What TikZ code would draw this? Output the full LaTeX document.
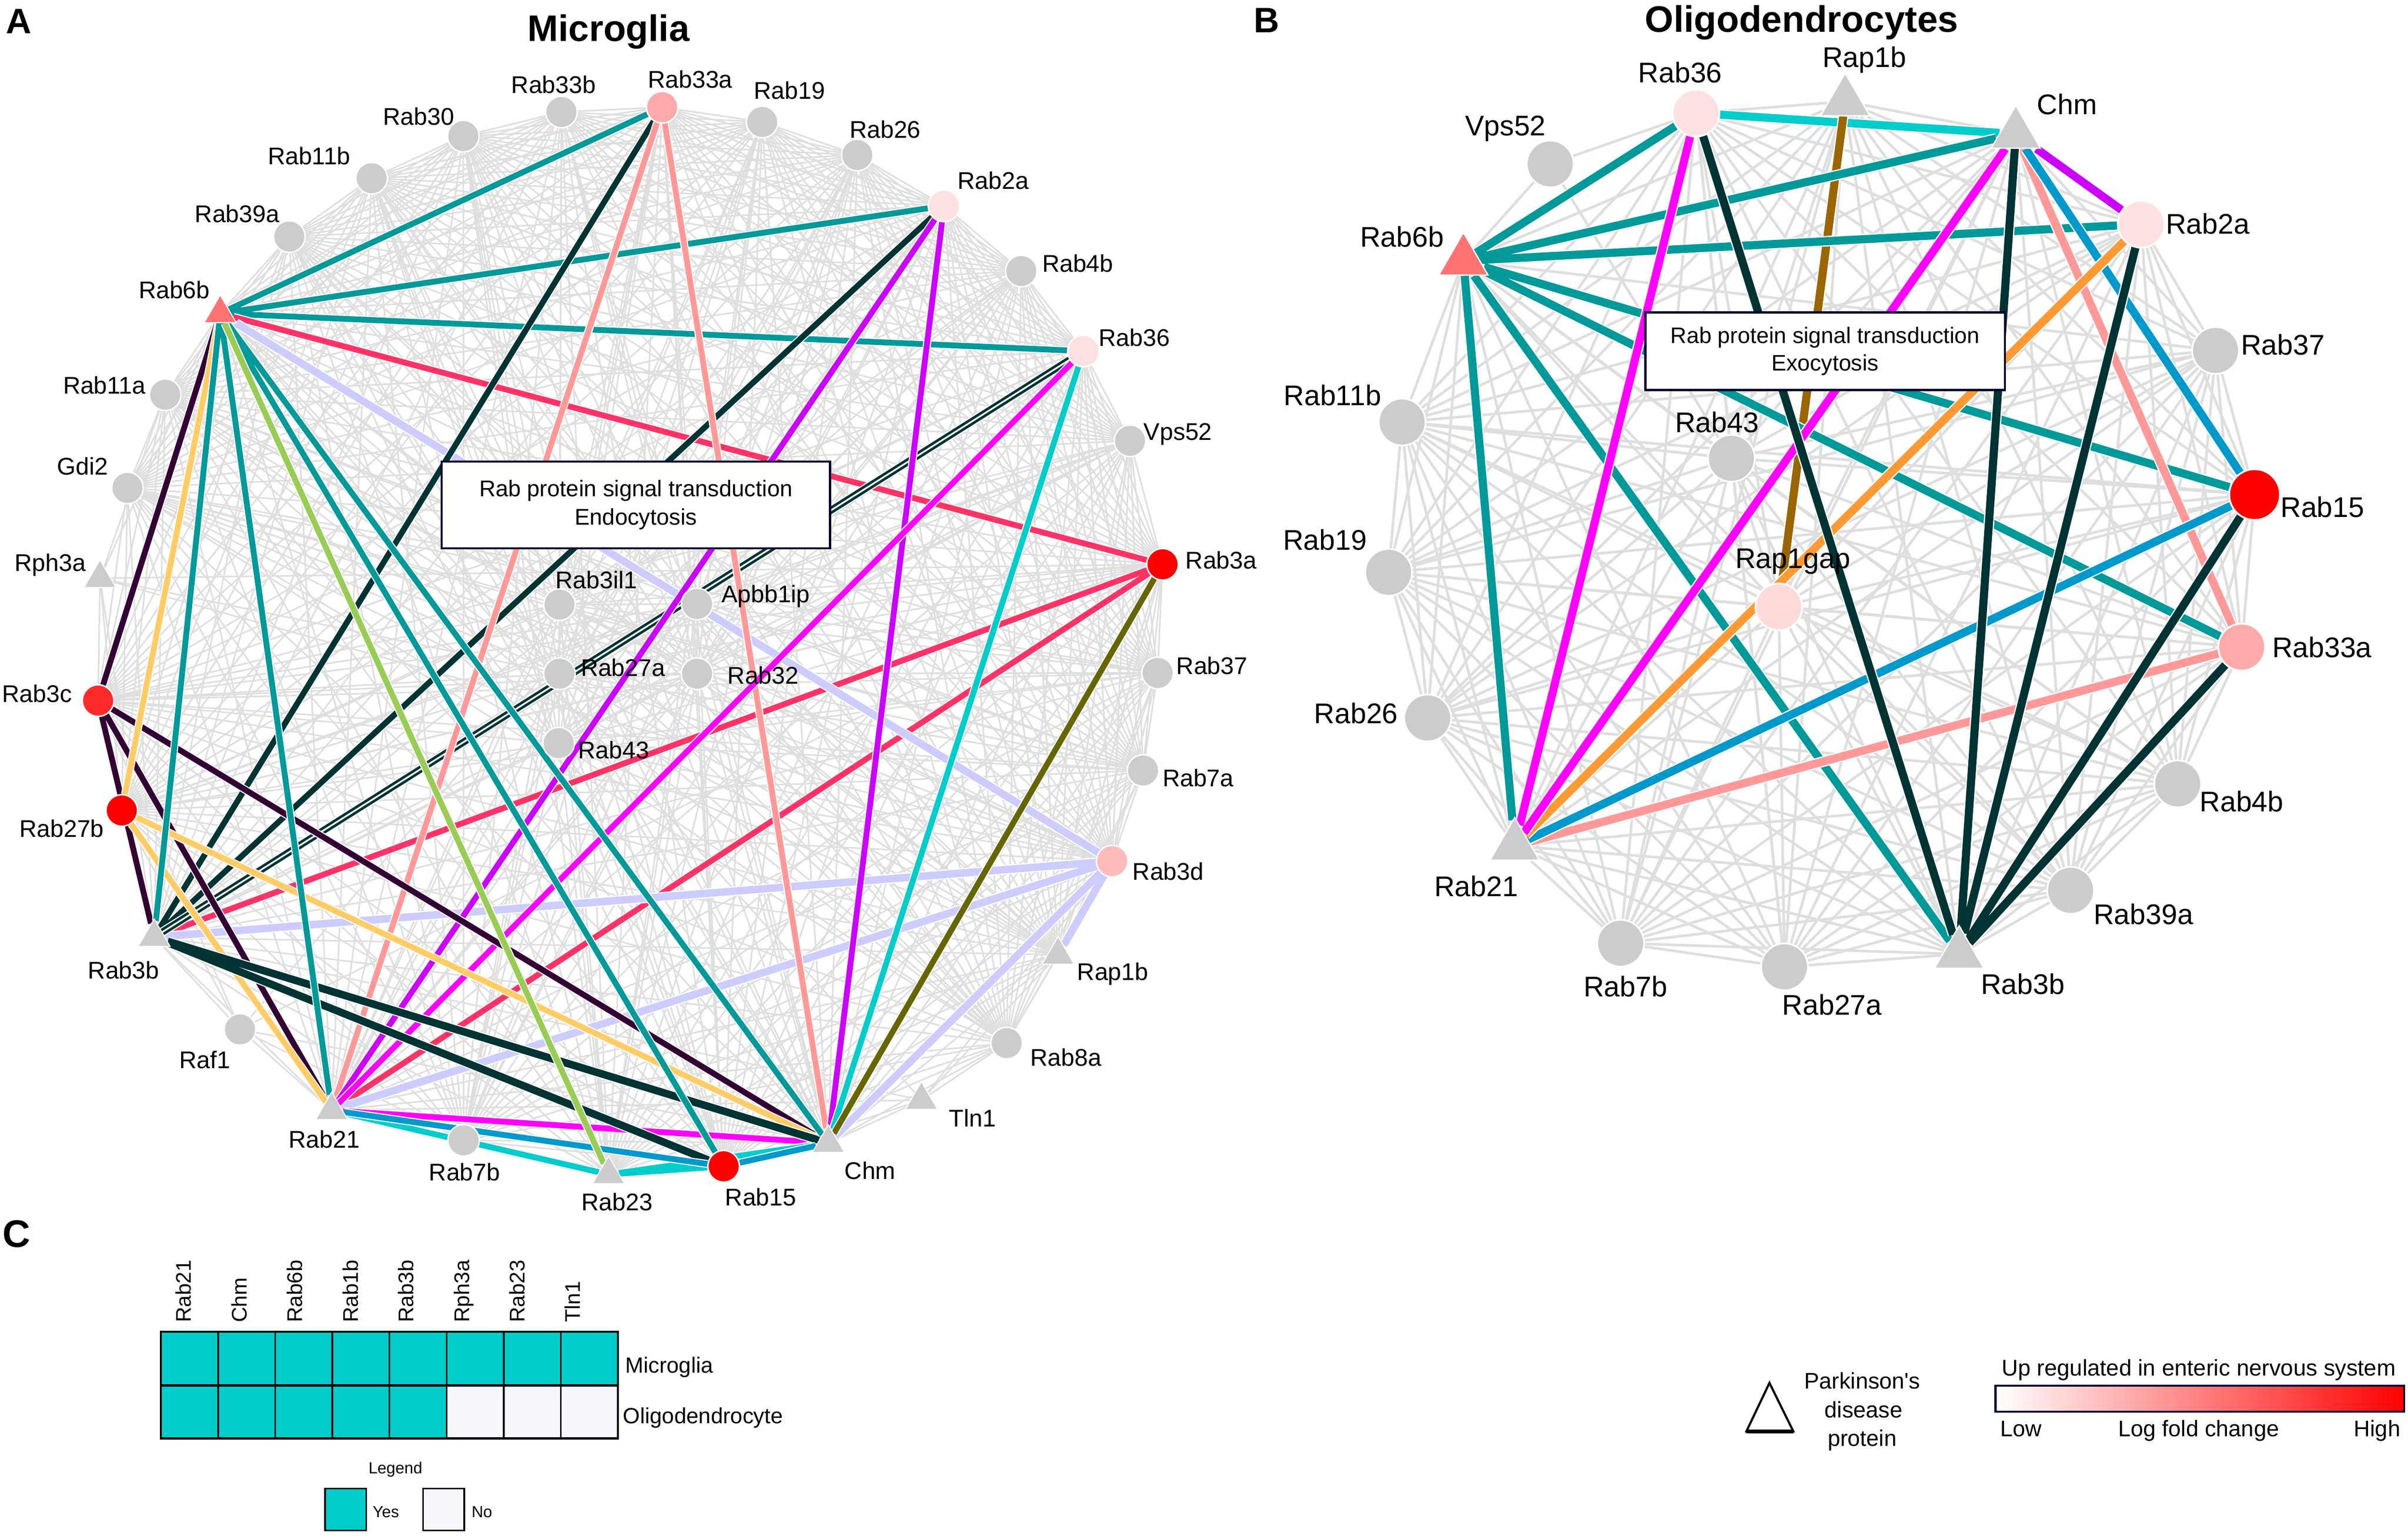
\documentclass[tikz,border=0pt]{standalone}
\usepackage{fontspec}
\setmainfont{Liberation Sans}
\usetikzlibrary{shapes.geometric,backgrounds}
\newcommand\myfs[1]{\fontsize{#1}{#1}\selectfont}
\definecolor{cTeal}{HTML}{009999}
\definecolor{cDark}{HTML}{003333}
\definecolor{cDpur}{HTML}{330033}
\definecolor{cYel}{HTML}{FFCC66}
\definecolor{cGrn}{HTML}{99CC55}
\definecolor{cCrim}{HTML}{FF3366}
\definecolor{cLav}{HTML}{CCCCFF}
\definecolor{cSal}{HTML}{FF9999}
\definecolor{cPur}{HTML}{CC00FF}
\definecolor{cMag}{HTML}{FF00FF}
\definecolor{cCyan}{HTML}{00CCCC}
\definecolor{cOli}{HTML}{666600}
\definecolor{cBlu}{HTML}{0099CC}
\definecolor{cOra}{HTML}{FF9933}
\definecolor{cBrn}{HTML}{996600}
\definecolor{cNavy}{HTML}{000033}
\definecolor{eg}{HTML}{DEDEDE}
\definecolor{ng}{HTML}{CCCCCC}
\definecolor{tri6b}{HTML}{FF7373}
\definecolor{red3c}{HTML}{FF2A2A}
\definecolor{cRed}{HTML}{FF0000}
\definecolor{p3d}{HTML}{FFBBBB}
\definecolor{p2a}{HTML}{FFE1E1}
\definecolor{p33a}{HTML}{FFAAAA}
\definecolor{pgap}{HTML}{FFDADA}
\definecolor{cHeat}{HTML}{00CCCC}
\definecolor{cNo}{HTML}{F5F7FC}
\begin{document}
\begin{tikzpicture}[x=1pt,y=-1pt,
  circA/.style={circle, draw=white, line width=0.9pt, minimum size=20.5pt, inner sep=0pt, fill=ng},
  triA/.style={regular polygon, regular polygon sides=3, minimum size=24pt, inner sep=0pt, fill=ng, draw=white, line width=0.6pt},
  circB/.style={circle, draw=white, line width=1.1pt, minimum size=30.5pt, inner sep=0pt, fill=ng},
  triB/.style={regular polygon, regular polygon sides=3, minimum size=37pt, inner sep=0pt, fill=ng, draw=white, line width=0.8pt},
  gA/.style={draw=eg, line width=1.0pt},
  gB/.style={draw=eg, line width=1.7pt},
  ceA/.style={line width=3.8pt, preaction={draw=white, line width=5.2pt}},
  ceAt/.style={line width=4.9pt, preaction={draw=white, line width=6.3pt}},
  ceB/.style={line width=5.3pt, preaction={draw=white, line width=6.9pt}},
  labA/.style={font=\myfs{15.7}, inner sep=0pt, text height=11.24pt, text depth=0pt},
  labB/.style={font=\myfs{18.5}, inner sep=0pt, text height=13.25pt, text depth=0pt},
  labC/.style={font=\myfs{13.8}, inner sep=0pt, text height=9.9pt, text depth=0pt, rotate=90, anchor=west},
  labR/.style={font=\myfs{14.3}, inner sep=0pt, text height=10.24pt, text depth=0pt, anchor=west},
  labL/.style={font=\myfs{10.5}, inner sep=0pt, text height=7.5pt, text depth=0pt},
  leg/.style={font=\myfs{14.7}, inner sep=0pt},
  title/.style={font=\bfseries\myfs{24}, inner sep=0pt, text height=17.2pt, text depth=0pt},
  letter/.style={font=\bfseries\myfs{23}, inner sep=0pt, text height=16.5pt, text depth=0pt},
  boxA/.style={draw=cNavy, line width=1.3pt, fill=white, minimum width=252.9pt, minimum height=56.6pt, inner sep=0pt, align=center, font=\fontsize{14.8}{18.5}\selectfont},
  boxB/.style={draw=cNavy, line width=1.5pt, fill=white, minimum width=234.2pt, minimum height=50.5pt, inner sep=0pt, align=center, font=\fontsize{14.6}{17.8}\selectfont}
]
\useasboundingbox (0,0) rectangle (1568,999.5);

% ---------------- Panel A nodes ----------------
\node[circA] (aRab33b) at (365.6,72.9) {};
\node[circA] (aRab30) at (301.7,88.6) {};
\node[circA] (aRab11b) at (242,116) {};
\node[circA] (aRab39a) at (188.4,154) {};
\node[triA, fill=tri6b] (aRab6b) at (143.4,204) {};
\node[circA] (aRab11a) at (107.6,256.9) {};
\node[circA] (aGdi2) at (83,317.6) {};
\node[triA] (aRph3a) at (65.1,376.4) {};
\node[circA, fill=red3c] (aRab3c) at (63.9,456) {};
\node[circA, fill=cRed] (aRab27b) at (79.3,527.5) {};
\node[triA] (aRab3b) at (100.4,610) {};
\node[circA] (aRaf1) at (156.3,670) {};
\node[triA] (aRab21) at (216,722.7) {};
\node[circA] (aRab7b) at (301.9,742.2) {};
\node[triA] (aRab23) at (396.3,764.4) {};
\node[circA, fill=cRed] (aRab15) at (471.2,759.1) {};
\node[triA] (aChm) at (539.4,744) {};
\node[triA] (aTln1) at (600,716) {};
\node[circA] (aRab8a) at (655.5,678.9) {};
\node[triA] (aRap1b) at (689,621.5) {};
\node[circA, fill=p3d] (aRab3d) at (724.2,560.5) {};
\node[circA] (aRab7a) at (744.3,501.5) {};
\node[circA] (aRab37) at (753.8,438) {};
\node[circA, fill=cRed] (aRab3a) at (757,367.3) {};
\node[circA] (aVps52) at (735.8,286.9) {};
\node[circA, fill=p2a] (aRab36) at (705.5,228.5) {};
\node[circA] (aRab4b) at (665,176.4) {};
\node[circA, fill=p2a] (aRab2a) at (614.7,134) {};
\node[circA] (aRab26) at (558.2,100.9) {};
\node[circA] (aRab19) at (496.3,79.4) {};
\node[circA, fill=p33a] (aRab33a) at (431.2,69.8) {};
\node[circA] (aRab3il1) at (364.3,393.5) {};
\node[circA] (aApbb1ip) at (453.9,393.1) {};
\node[circA] (aRab27a) at (364.3,438.5) {};
\node[circA] (aRab32) at (453.9,438.5) {};
\node[circA] (aRab43) at (363.8,483.7) {};

% ---------------- Panel B nodes ----------------
\node[circB, fill=p2a] (bRab36) at (1104.3,73.6) {};
\node[circB] (bVps52) at (1009.4,106.7) {};
\node[triB, fill=tri6b] (bRab6b) at (952.9,169.8) {};
\node[triB] (bRap1b) at (1201.5,66.1) {};
\node[triB] (bChm) at (1312.6,87.2) {};
\node[circB, fill=p2a] (bRab2a) at (1394.3,145.9) {};
\node[circB] (bRab37) at (1442.7,228.1) {};
\node[circB, fill=cRed, minimum size=33pt] (bRab15) at (1468.1,321.9) {};
\node[circB, fill=p33a] (bRab33a) at (1459.7,421.2) {};
\node[circB] (bRab4b) at (1418,510.2) {};
\node[circB] (bRab39a) at (1348.3,579.5) {};
\node[triB] (bRab3b) at (1275.7,621) {};
\node[circB] (bRab27a) at (1162,629.3) {};
\node[circB] (bRab7b) at (1055.3,613.9) {};
\node[triB] (bRab21) at (986.3,550.6) {};
\node[circB] (bRab26) at (929.6,467.3) {};
\node[circB] (bRab19) at (904.2,372.5) {};
\node[circB] (bRab11b) at (913,274.7) {};
\node[circB] (bRab43) at (1127.4,298.3) {};
\node[circB, fill=pgap] (bRap1gap) at (1158.3,395) {};

% ---------------- edges (behind nodes) ----------------
\def\coreA{Rab33a,Rab19,Rab26,Rab2a,Rab4b,Rab36,Vps52,Rab3a,Rab37,Rab7a,Rab3d,Rap1b,Rab8a,Chm,Rab15,Rab23,Rab7b,Rab21,Rab3b,Rab27b,Rab3c,Gdi2,Rab11a,Rab6b,Rab39a,Rab11b,Rab30,Rab33b,Rab3il1,Apbb1ip,Rab27a,Rab32,Rab43}
\def\coreB{Rab36,Rap1b,Chm,Rab2a,Rab37,Rab15,Rab33a,Rab4b,Rab39a,Rab3b,Rab27a,Rab7b,Rab21,Rab26,Rab19,Rab11b,Rab6b,Rab43,Rap1gap}
\begin{pgfonlayer}{background}
\fill[white] (0,0) rectangle (1568,999.5);
\foreach \u [count=\i] in \coreA {
  \foreach \v [count=\j] in \coreA {
    \ifnum\j>\i \draw[gA] (a\u) -- (a\v); \fi
  }
}
\foreach \u/\v in {Rph3a/Rab6b,Rph3a/Rab3c,Rph3a/Rab27b,Rph3a/Rab3b,Rph3a/Rab11a,Rph3a/Rab3a,Rph3a/Rab3d,Rph3a/Rab27a,
  Raf1/Rab3b,Raf1/Rab21,Raf1/Rab3c,Raf1/Rab27b,Raf1/Rab3a,Raf1/Rab2a,Raf1/Rab7b,Raf1/Chm,
  Tln1/Chm,Tln1/Rab21,Tln1/Rab15,Tln1/Rab8a,Tln1/Rap1b,Tln1/Rab3d,Tln1/Rab6b,Tln1/Rab3b}
  {\draw[gA] (a\u) -- (a\v);}
\foreach \u [count=\i] in \coreB {
  \foreach \v [count=\j] in \coreB {
    \ifnum\j>\i \draw[gB] (b\u) -- (b\v); \fi
  }
}
\foreach \v in {Rab36,Rab6b,Rab43} {\draw[gB] (bVps52) -- (b\v);}

% panel A coloured edges
\draw[ceA, cTeal] (aRab6b)--(aRab33a) (aRab6b)--(aRab2a) (aRab6b)--(aRab36);
\draw[ceA, cCrim] (aRab6b)--(aRab3a) (aRab3a)--(aRab3b) (aRab3a)--(aRab21);
\draw[ceAt, cLav] (aRab6b)--(aRab3d) (aRab3d)--(aRab3b) (aRab3d)--(aRab21) (aRab3d)--(aChm) (aRab3d)--(aRap1b);
\draw[ceA, cDark] (aRab33a)--(aRab3b) (aRab2a)--(aRab3b);
\draw[cDark, line width=1.7pt, double=white, double distance=1.1pt, preaction={draw=white, line width=6pt}] (aRab36)--(aRab3b);
\draw[ceA, cSal] (aRab33a)--(aRab21) (aRab33a)--(aChm);
\draw[ceA, cPur] (aRab2a)--(aRab21) (aRab2a)--(aChm);
\draw[ceA, cMag] (aRab36)--(aRab21) (aRab21)--(aChm);
\draw[ceA, cCyan] (aRab36)--(aChm) (aRab21)--(aRab23) (aRab23)--(aChm) (aRab23)--(aRab15);
\draw[ceA, cOli] (aRab3a)--(aChm);
\draw[ceA, cDpur] (aRab6b)--(aRab3c) (aRab3c)--(aRab3b) (aRab3c)--(aRab21) (aRab3c)--(aChm);
\draw[ceA, cYel] (aRab6b)--(aRab27b) (aRab27b)--(aRab21) (aRab27b)--(aChm);
\draw[ceAt, cDark] (aRab3b)--(aRab15) (aRab3b)--(aChm);
\draw[ceA, cBlu] (aRab21)--(aRab15) (aRab15)--(aChm);
\draw[ceA, cTeal] (aRab6b)--(aRab3b) (aRab6b)--(aRab21) (aRab6b)--(aRab15) (aRab6b)--(aChm);
\draw[ceA, cGrn] (aRab6b)--(aRab23);

% panel B coloured edges
\draw[ceB, cCyan] (bRab36)--(bChm);
\draw[ceB, cBrn] (bRap1b)--(bRap1gap);
\draw[ceB, cTeal] (bRab6b)--(bRab36) (bRab6b)--(bChm) (bRab6b)--(bRab2a) (bRab6b)--(bRab15) (bRab6b)--(bRab33a) (bRab6b)--(bRab21) (bRab6b)--(bRab3b);
\draw[ceB, cPur] (bChm)--(bRab2a);
\draw[ceB, cSal] (bChm)--(bRab33a) (bRab33a)--(bRab21);
\draw[ceB, cBlu] (bChm)--(bRab15) (bRab15)--(bRab21);
\draw[ceB, cOra] (bRab2a)--(bRab21);
\draw[ceB, cMag] (bRab36)--(bRab21) (bChm)--(bRab21);
\draw[ceB, cDark] (bRab36)--(bRab3b) (bChm)--(bRab3b) (bRab2a)--(bRab3b) (bRab15)--(bRab3b) (bRab33a)--(bRab3b);
\end{pgfonlayer}

% ---------------- boxes ----------------
\node[boxA] (aBox) at (414.05,328.7) {Rab protein signal transduction\\Endocytosis};
\node[boxB] (bBox) at (1188.4,228.65) {Rab protein signal transduction\\Exocytosis};

% ---------------- titles and letters ----------------
\node[letter] (letA) at (12.2,13.4) {A};
\node[letter] (letB) at (824.7,12.9) {B};
\node[letter, font=\bfseries\myfs{25}, text height=17.9pt] (letC) at (10.7,802.7) {C};
\node[title] (titA) at (396.3,18.2) {Microglia};
\node[title] (titB) at (1173.1,12.3) {Oligodendrocytes};

% ---------------- Panel A labels ----------------
\node[labA] (laRab33b) at (360.5,55) {Rab33b};
\node[labA] (laRab30) at (272.7,75.9) {Rab30};
\node[labA] (laRab11b) at (201.3,101.6) {Rab11b};
\node[labA] (laRab39a) at (154.5,139.2) {Rab39a};
\node[labA] (laRab6b) at (113.5,188.5) {Rab6b};
\node[labA] (laRab11a) at (68,250.7) {Rab11a};
\node[labA] (laGdi2) at (53.7,303.4) {Gdi2};
\node[labA] (laRph3a) at (32.8,366.3) {Rph3a};
\node[labA] (laRab3c) at (24.1,451.5) {Rab3c};
\node[labA] (laRab27b) at (40.2,539.2) {Rab27b};
\node[labA] (laRab3b) at (80.5,631.3) {Rab3b};
\node[labA] (laRaf1) at (133.4,689.8) {Raf1};
\node[labA] (laRab21) at (211.1,741.4) {Rab21};
\node[labA] (laRab7b) at (302.5,762.9) {Rab7b};
\node[labA] (laRab23) at (401.9,782.3) {Rab23};
\node[labA] (laRab15) at (495.4,779.2) {Rab15};
\node[labA] (laChm) at (566.6,761.9) {Chm};
\node[labA] (laTln1) at (633.3,727.6) {Tln1};
\node[labA] (laRab8a) at (694.1,688.2) {Rab8a};
\node[labA] (laRap1b) at (724.6,632.4) {Rap1b};
\node[labA] (laRab3d) at (760.7,567.3) {Rab3d};
\node[labA] (laRab7a) at (780.2,506.2) {Rab7a};
\node[labA] (laRab37) at (789.2,433.4) {Rab37};
\node[labA] (laRab3a) at (795.2,364.7) {Rab3a};
\node[labA] (laVps52) at (767,280.8) {Vps52};
\node[labA] (laRab36) at (738.6,219.6) {Rab36};
\node[labA] (laRab4b) at (701.8,171.4) {Rab4b};
\node[labA] (laRab2a) at (646.8,117.5) {Rab2a};
\node[labA] (laRab26) at (576.4,84.2) {Rab26};
\node[labA] (laRab19) at (514.1,58.8) {Rab19};
\node[labA] (laRab33a) at (449.4,51.7) {Rab33a};
\node[labA, anchor=west] (laRab3il1) at (361.5,377.5) {Rab3il1};
\node[labA, anchor=west] (laApbb1ip) at (469.6,386.6) {Apbb1ip};
\node[labA, anchor=west] (laRab27a) at (378,434.6) {Rab27a};
\node[labA, anchor=west] (laRab32) at (473.6,439.6) {Rab32};
\node[labA, anchor=west] (laRab43) at (376.3,488.2) {Rab43};

% ---------------- Panel B labels ----------------
\node[labB] (lbRab36) at (1094.1,47.2) {Rab36};
\node[labB] (lbVps52) at (980.3,81.6) {Vps52};
\node[labB] (lbRab6b) at (912.9,154.1) {Rab6b};
\node[labB] (lbRab11b) at (867.7,257.3) {Rab11b};
\node[labB] (lbRab43) at (1118,274.9) {Rab43};
\node[labB] (lbRap1b) at (1214,37) {Rap1b};
\node[labB] (lbChm) at (1346,67.9) {Chm};
\node[labB] (lbRab2a) at (1437.6,145.5) {Rab2a};
\node[labB] (lbRab37) at (1486.5,224.3) {Rab37};
\node[labB] (lbRab15) at (1512.3,330) {Rab15};
\node[labB] (lbRab33a) at (1512,421.2) {Rab33a};
\node[labB] (lbRab4b) at (1459.7,521.5) {Rab4b};
\node[labB] (lbRab39a) at (1395.7,595) {Rab39a};
\node[labB] (lbRab3b) at (1317.2,640.6) {Rab3b};
\node[labB] (lbRab27a) at (1193,654) {Rab27a};
\node[labB] (lbRab7b) at (1058.4,642.2) {Rab7b};
\node[labB] (lbRab21) at (961.2,576.7) {Rab21};
\node[labB] (lbRab26) at (883,464.1) {Rab26};
\node[labB] (lbRab19) at (862.8,351.2) {Rab19};
\node[labB] (lbRap1gap) at (1167.5,363.2) {Rap1gap};

% ---------------- Panel C ----------------
\foreach \i in {0,...,7} {
  \fill[cHeat] ({104.8+37.2*\i},866.8) rectangle ++(37.2,34.8);
}
\foreach \i in {0,...,4} {
  \fill[cHeat] ({104.8+37.2*\i},901.6) rectangle ++(37.2,34.6);
}
\foreach \i in {5,6,7} {
  \fill[cNo] ({104.8+37.2*\i},901.6) rectangle ++(37.2,34.6);
}
\foreach \i in {1,...,7} {
  \draw[line width=1.1pt] ({104.8+37.2*\i},866.8) -- ({104.8+37.2*\i},936.2);
}
\draw[line width=1.6pt] (104.8,901.6) -- (402.4,901.6);
\draw[line width=1.4pt] (104.8,866.8) rectangle (402.4,936.2);
\foreach \t [count=\k from 0] in {Rab21,Chm,Rab6b,Rab1b,Rab3b,Rph3a,Rab23,Tln1} {
  \node[labC] (col\k) at ({119.5+36.2*\k},861) {\t};
}
\node[labR] (rowMic) at (407,888.5) {Microglia};
\node[labR] (rowOli) at (405.5,921.3) {Oligodendrocyte};
\node[labL] (legTitle) at (257.5,955.4) {Legend};
\node[draw=black, line width=1pt, fill=cHeat, minimum width=26.9pt, minimum height=27.4pt, inner sep=0pt] (legYes) at (225.15,982.5) {};
\node[labL, anchor=west] (legYesT) at (242.5,984) {Yes};
\node[draw=black, line width=1pt, fill=cNo, minimum width=26.9pt, minimum height=27.4pt, inner sep=0pt] (legNo) at (288.85,982.5) {};
\node[labL, anchor=west] (legNoT) at (306.9,984) {No};

% ---------------- bottom-right legend ----------------
\draw[line width=1.4pt, fill=white, line join=miter] (1152.2,900.1) -- (1167.7,931.6) -- (1137.2,931.6) -- cycle;
\draw[line width=2.4pt] (1137.2,931.6) -- (1167.7,931.6);
\node[leg, anchor=base] (pd1) at (1212.6,903.8) {Parkinson\textquotesingle s};
\node[leg, anchor=base] (pd2) at (1213.5,922.6) {disease};
\node[leg, anchor=base] (pd3) at (1212.6,941.4) {protein};
\shade[left color=white, right color=cRed] (1299.4,902) rectangle (1565.6,918.7);
\draw[cNavy, line width=1.3pt] (1299.4,902) rectangle (1565.6,918.7);
\node[leg, font=\myfs{14.8}, anchor=base] (cbTitle) at (1431.7,895.4) {Up regulated in enteric nervous system};
\node[leg, anchor=base west] (cbLow) at (1302.3,934.9) {Low};
\node[leg, anchor=base] (cbMid) at (1431.7,934.9) {Log fold change};
\node[leg, anchor=base east] (cbHigh) at (1563.2,934.9) {High};
\end{tikzpicture}
\end{document}
